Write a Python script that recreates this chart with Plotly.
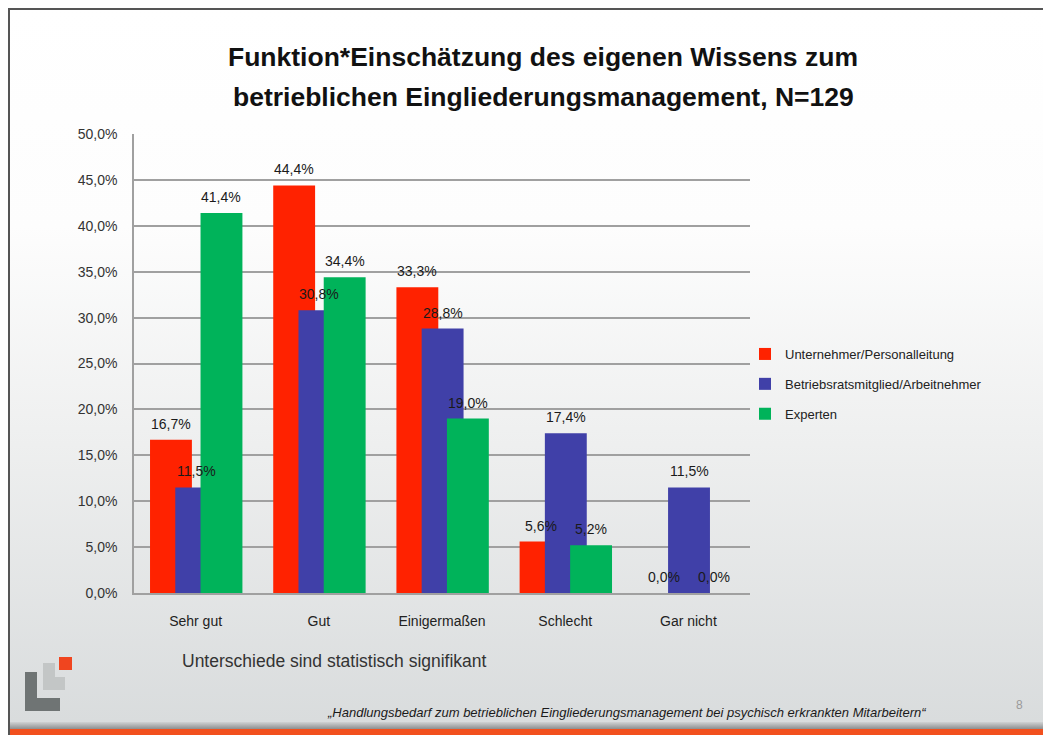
import base64

import plotly.graph_objects as go

# ---------------------------------------------------------------------
# Data
# ---------------------------------------------------------------------
categories = ["Sehr gut", "Gut", "Einigermaßen", "Schlecht", "Gar nicht"]
series_names = [
    "Unternehmer/Personalleitung",
    "Betriebsratsmitglied/Arbeitnehmer",
    "Experten",
]
unternehmer = [16.7, 44.4, 33.3, 5.6, 0.0]
betriebsrat = [11.5, 30.8, 28.8, 17.4, 11.5]
experten = [41.4, 34.4, 19.0, 5.2, 0.0]
y_ticks = [0, 5, 10, 15, 20, 25, 30, 35, 40, 45, 50]

title_lines = ["Funktion*Einschätzung des eigenen Wissens zum",
               "betrieblichen Eingliederungsmanagement, N=129"]
note_text = "Unterschiede sind statistisch signifikant"
footer_text = ("„Handlungsbedarf zum betrieblichen Eingliederungsmanagement "
               "bei psychisch erkrankten Mitarbeitern“")

FONT = "Liberation Sans, Arial, sans-serif"


def pct(v):
    return f"{v:.1f}%".replace(".", ",")


# ---------------------------------------------------------------------
# Layout helpers (page pixel -> paper coordinates)
# the page body has an 8px margin, so the figure starts at (8, 8)
# ---------------------------------------------------------------------
OFF = 8
PAGE_W, PAGE_H = 1051, 735
W, H = PAGE_W - OFF, PAGE_H - OFF
L, R, T, B = 134, 750, 134, 593
PW, PH = R - L, B - T


def px(x):
    return (x - L) / PW


def py(y):
    return (B - y) / PH


# slide background: white fading to light grey, border, orange footer bar
svg = f"""<svg xmlns='http://www.w3.org/2000/svg' width='{W}' height='{H}' viewBox='{OFF} {OFF} {W} {H}' preserveAspectRatio='none'>
<defs><linearGradient id='g' x1='0' y1='0' x2='0' y2='1'>
<stop offset='0' stop-color='#ffffff'/>
<stop offset='0.3' stop-color='#fdfdfd'/>
<stop offset='0.6' stop-color='#eeefef'/>
<stop offset='1' stop-color='#d8dbdc'/>
</linearGradient>
<linearGradient id='s' x1='0' y1='0' x2='0' y2='1'>
<stop offset='0' stop-color='#d0d2d3'/>
<stop offset='1' stop-color='#8d8f90'/>
</linearGradient></defs>
<rect x='{OFF}' y='{OFF}' width='{W}' height='{H}' fill='url(#g)'/>
<rect x='{OFF}' y='722' width='{W}' height='7' fill='url(#s)'/>
<rect x='{OFF}' y='729' width='{W}' height='6' fill='#f2501e'/>
<line x1='{OFF}' y1='9' x2='{PAGE_W}' y2='9' stroke='#555' stroke-width='2'/>
<line x1='9' y1='{OFF}' x2='9' y2='{PAGE_H}' stroke='#555' stroke-width='2'/>
</svg>"""
bg_src = "data:image/svg+xml;base64," + base64.b64encode(svg.encode()).decode()

# ---------------------------------------------------------------------
# Figure
# ---------------------------------------------------------------------
colors = ["#ff2200", "#4040a8", "#00b35a"]
offsets = [-0.37, -0.165, 0.04]
bar_w = 0.34
series = [unternehmer, betriebsrat, experten]

fig = go.Figure()
for name, vals, col, off in zip(series_names, series, colors, offsets):
    fig.add_trace(go.Bar(
        x=categories, y=vals, name=name,
        marker=dict(color=col, line=dict(width=0)),
        width=bar_w, offset=off, legendgroup=name,
    ))

# value labels drawn above all bars
for vals, off in zip(series, offsets):
    for i, v in enumerate(vals):
        fig.add_annotation(
            x=i + off + bar_w / 2, y=v, xref="x", yref="y",
            text=pct(v), showarrow=False, yshift=16,
            xanchor="center", yanchor="middle",
            font=dict(family=FONT, size=14, color="#1a1a1a"),
        )

fig.update_layout(
    width=W, height=H,
    margin=dict(l=L - OFF, r=PAGE_W - R, t=T - OFF, b=PAGE_H - B),
    barmode="overlay",
    paper_bgcolor="white",
    plot_bgcolor="rgba(0,0,0,0)",
    font=dict(family=FONT, color="#222"),
    showlegend=True,
    legend=dict(
        x=px(745), y=py(339), xanchor="left", yanchor="top",
        bgcolor="rgba(0,0,0,0)", font=dict(size=13, color="#222"),
        tracegroupgap=10, itemwidth=30,
    ),
    images=[dict(
        source=bg_src, xref="paper", yref="paper",
        x=px(OFF), y=py(OFF), sizex=W / PW, sizey=H / PH,
        xanchor="left", yanchor="top", sizing="stretch", layer="below",
    )],
)

fig.update_yaxes(
    range=[0, 50], tickvals=y_ticks, ticktext=[pct(v) for v in y_ticks],
    showgrid=True, gridcolor="#a0a0a0", gridwidth=1.5,
    showline=True, linecolor="#a0a0a0", linewidth=1.5,
    ticks="outside", ticklen=12, tickcolor="rgba(0,0,0,0)",
    tickfont=dict(size=14, color="#333"), zeroline=False,
)
fig.update_xaxes(
    showline=True, linecolor="#a0a0a0", linewidth=1.5,
    ticks="outside", ticklen=14, tickcolor="rgba(0,0,0,0)",
    tickfont=dict(size=14, color="#222"),
)

# title, note, footer
for text, yc in zip(title_lines, [57, 97]):
    fig.add_annotation(
        text="<b>" + text + "</b>", x=px(543), y=py(yc), xref="paper", yref="paper",
        xanchor="center", yanchor="middle",
        showarrow=False, font=dict(family=FONT, size=26.5, color="#111"),
    )
fig.add_annotation(
    text=note_text, x=px(334), y=py(661), xref="paper", yref="paper",
    xanchor="center", yanchor="middle",
    showarrow=False, font=dict(family=FONT, size=17.5, color="#333"),
)
fig.add_annotation(
    text="<i>" + footer_text + "</i>", x=px(626), y=py(712), xref="paper", yref="paper",
    xanchor="center", yanchor="middle",
    showarrow=False, font=dict(family=FONT, size=13, color="#1a1a1a"),
)
fig.add_annotation(
    text="8", x=px(1020), y=py(705), xref="paper", yref="paper",
    xanchor="center", yanchor="middle",
    showarrow=False, font=dict(family=FONT, size=12, color="#9a9a9a"),
)

# logo
logo = [
    (43, 663, 55, 690, "#c3c6c6"),
    (43, 677, 65, 690, "#c3c6c6"),
    (25, 672, 37, 711, "#6f7474"),
    (25, 698, 60, 711, "#6f7474"),
    (59, 657, 72, 670, "#f0451f"),
]
for x0, y0, x1, y1, c in logo:
    fig.add_shape(type="rect", xref="paper", yref="paper",
                  x0=px(x0), x1=px(x1), y0=py(y0), y1=py(y1),
                  fillcolor=c, line=dict(width=0), layer="above")

fig.write_html("out.html")
